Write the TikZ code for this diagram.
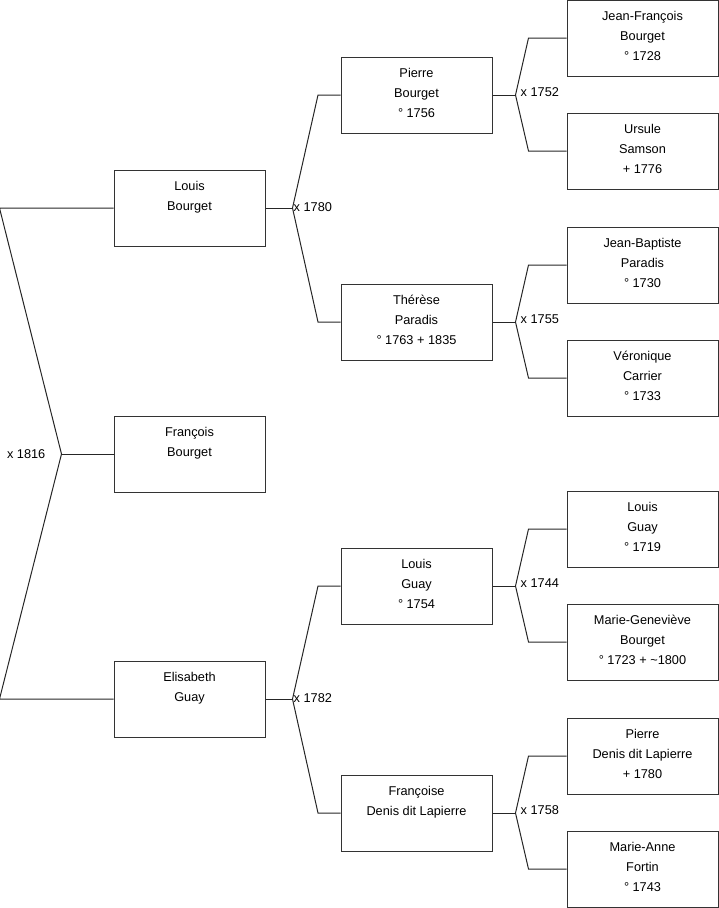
\documentclass[tikz,border=0pt]{standalone}
\usepackage{fontspec}
\setmainfont{Liberation Sans}
\usetikzlibrary{calc}
\tikzset{
  person/.style={draw=black!80, line width=1pt, minimum width=151pt, minimum height=76pt,
    inner sep=0pt, text depth=4pt, align=center, font=\fontsize{12.75}{20}\selectfont},
  link/.style={draw=black!85, line width=1pt},
  union/.style={inner sep=0pt, font=\fontsize{12.75}{15}\selectfont}
}
\begin{document}
\begin{tikzpicture}[x=1pt,y=-1pt]
  \useasboundingbox (0,0) rectangle (719,908);
  % persons
  \foreach \n/\x/\y/\t in {
      louis/189.5/208/{Louis\\Bourget\\\mbox{}},
      francois/189.5/454/{François\\Bourget\\\mbox{}},
      elisabeth/189.5/699/{Elisabeth\\Guay\\\mbox{}},
      pierre/416.5/95/{Pierre\\Bourget\\° 1756},
      therese/416.5/322/{Thérèse\\Paradis\\° 1763 + 1835},
      louisg/416.5/586/{Louis\\Guay\\° 1754},
      francoise/416.5/813/{Françoise\\Denis dit Lapierre\\\mbox{}},
      jeanf/642.5/38/{Jean-François\\Bourget\\° 1728},
      ursule/642.5/151/{Ursule\\Samson\\+ 1776},
      jeanb/642.5/265/{Jean-Baptiste\\Paradis\\° 1730},
      veronique/642.5/378/{Véronique\\Carrier\\° 1733},
      louisgg/642.5/529/{Louis\\Guay\\° 1719},
      mariegen/642.5/642/{Marie-Geneviève\\Bourget\\° 1723 + \textasciitilde1800},
      pierred/642.5/756/{Pierre\\Denis dit Lapierre\\+ 1780},
      mariea/642.5/869/{Marie-Anne\\Fortin\\° 1743}}{
    \node[person] (\n) at (\x,\y) {\t};
  }
  % couples
  \foreach \c/\f/\m/\dj/\db/\dl/\dh/\lab in {
      louis/pierre/therese/27/22.5/1/-1/{x 1780},
      elisabeth/louisg/francoise/27/22.5/1/-1/{x 1782},
      pierre/jeanf/ursule/23/38/5/-3/{x 1752},
      therese/jeanb/veronique/23/38/5/-3/{x 1755},
      louisg/louisgg/mariegen/23/38/5/-3/{x 1744},
      francoise/pierred/mariea/23/38/5/-3/{x 1758}}{
    \coordinate (j\c) at ($(\c.east)+(\dj,0)$);
    \draw[link] (\c.east) -- (j\c);
    \draw[link] (\f.west) -- ++(-\db,0) -- (j\c) -- ($(\m.west)+(-\db,0)$) -- (\m.west);
    \node[union, anchor=west] at ($(j\c)+(\dl,\dh)$) {\lab};
  }
  % root couple
  \coordinate (jroot) at ($(francois.west)+(-52,0)$);
  \draw[link] (francois.west) -- (jroot);
  \draw[link] (louis.west) -- ++(-114,0) -- (jroot) -- ($(elisabeth.west)+(-114,0)$) -- (elisabeth.west);
  \node[union, anchor=east] at ($(jroot)+(-16,0)$) {x 1816};
\end{tikzpicture}
\end{document}
